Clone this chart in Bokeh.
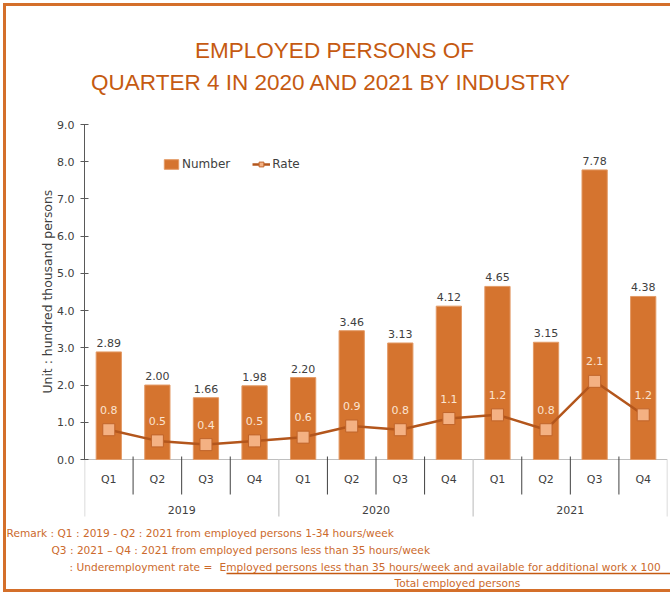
from bokeh.plotting import figure
from bokeh.layouts import column
from bokeh.models import (Range1d, FixedTicker, PrintfTickFormatter, ColumnDataSource,
                          Legend, LegendItem, Title)
from bokeh.core.properties import value
from bokeh.embed import file_html
from bokeh.resources import INLINE

# ---------------- data ----------------
years = ["2019", "2020", "2021"]
quarters = ["Q1", "Q2", "Q3", "Q4"]
number = [2.89, 2.00, 1.66, 1.98, 2.20, 3.46, 3.13, 4.12, 4.65, 3.15, 7.78, 4.38]
rate = [0.8, 0.5, 0.4, 0.5, 0.6, 0.9, 0.8, 1.1, 1.2, 0.8, 2.1, 1.2]
y_ticks = [0, 1, 2, 3, 4, 5, 6, 7, 8, 9]

title_lines = ["EMPLOYED PERSONS OF", "QUARTER 4 IN 2020 AND 2021  BY INDUSTRY"]
y_label = "Unit : hundred thousand persons"
remark_1 = "Remark : Q1 : 2019 - Q2 : 2021 from employed persons 1-34 hours/week"
remark_2 = "Q3 : 2021 \u2013 Q4 : 2021 from employed persons less than 35 hours/week"
remark_3a = ": Underemployment rate ="
remark_3b = "Employed persons less than 35 hours/week and available for additional work  x  100"
remark_4 = "Total employed persons"

# ---------------- layout constants (window pixels) ----------------
OX, OY = 6, 6                 # content origin (after slide border)
WIN_W = 670
FRAME_L, FRAME_R = 84, 667
Y0_PX, Y9_PX = 459, 124
MAIN_BOTTOM = 520
REM_BOTTOM = 589
n = len(number)
PX_PER_X = (FRAME_R - FRAME_L) / n
PX_PER_Y = (Y0_PX - Y9_PX) / 9.0

def px_x(wx):   # window pixel -> data x
    return (wx - FRAME_L) / PX_PER_X

def px_y(wy):   # window pixel -> data y
    return (Y0_PX - wy) / PX_PER_Y

ORANGE = "#C55A11"
REM = "#CC6A2C"
BAR = "#D5742F"
TXT = "#404040"
FONT = value("DejaVu Sans")

xs = [i + 0.5 for i in range(n)]
src = ColumnDataSource(dict(
    x=xs, number=number, rate=rate,
    nlab=["%.2f" % v for v in number],
    rlab=["%.1f" % v for v in rate],
))

p = figure(width=WIN_W - OX, height=MAIN_BOTTOM - OY,
           x_range=Range1d(0, n), y_range=Range1d(px_y(MAIN_BOTTOM), px_y(OY)),
           min_border_left=FRAME_L - OX, min_border_right=WIN_W - FRAME_R,
           min_border_top=0, min_border_bottom=0,
           x_axis_location=None, output_backend="svg", toolbar_location=None)
p.frame_align = False
p.outline_line_color = None
p.grid.visible = False
p.background_fill_color = "white"
p.border_fill_color = "white"

# y axis
ya = p.yaxis[0]
ya.ticker = FixedTicker(ticks=y_ticks)
ya.formatter = PrintfTickFormatter(format="%.1f")
ya.bounds = (0, 9)
ya.axis_line_color = "#595959"
ya.major_tick_line_color = "#595959"
ya.major_tick_in = 4
ya.major_tick_out = 4
ya.minor_tick_line_color = None
ya.major_label_text_font = "DejaVu Sans"
ya.major_label_text_font_size = "11px"
ya.major_label_text_color = TXT
ya.major_label_standoff = 6
p.add_layout(Title(text=y_label, align="left", offset=MAIN_BOTTOM - 393,
                   text_font="DejaVu Sans", text_font_size="12.4px",
                   text_font_style="normal", text_color=TXT, standoff=0), "left")

# titles
p.text(x=[px_x(334)] * 2, y=[px_y(50), px_y(82)], text=title_lines,
       text_font=value("Liberation Sans"), text_font_size="22.5px", text_color=ORANGE,
       text_align="center", text_baseline="middle")

# category axis region
p.segment(x0=[0], y0=[0], x1=[n], y1=[0], line_color="#BFBFBF", line_width=1)
group_edges = [4 * g for g in range(len(years) + 1)]
p.segment(x0=group_edges, y0=[0] * len(group_edges), x1=group_edges,
          y1=[px_y(516)] * len(group_edges), line_color="#D0D0D0", line_width=1.5)
q_edges = [i for i in range(1, n) if i % 4 != 0]
p.segment(x0=q_edges, y0=[0.08] * len(q_edges), x1=q_edges,
          y1=[px_y(494)] * len(q_edges), line_color="#404040", line_width=1)
p.text(x=xs, y=[px_y(479)] * n, text=[quarters[i % 4] for i in range(n)],
       text_font=FONT, text_font_size="11px", text_color=TXT,
       text_align="center", text_baseline="middle")
p.text(x=[4 * g + 2 for g in range(len(years))], y=[px_y(509)] * len(years), text=years,
       text_font=FONT, text_font_size="11px", text_color=TXT,
       text_align="center", text_baseline="middle")

# bars
bars = p.vbar(x="x", top="number", bottom=0, width=0.52, source=src,
              fill_color=BAR, line_color="#E39A66", line_width=1)
p.text(x="x", y="number", text="nlab", source=src, text_font=FONT,
       text_font_size="11px", text_color=TXT, text_align="center",
       text_baseline="bottom", y_offset=-5)

# rate line
ln = p.line(x="x", y="rate", source=src, line_color="#B3561C", line_width=2.5)
sq = p.scatter(x="x", y="rate", source=src, marker="square", size=12,
               fill_color="#F4B183", line_color="#C0642A", line_width=1)
p.text(x="x", y="rate", text="rlab", source=src, text_font=FONT,
       text_font_size="11px", text_color="#FBE3D0", text_align="center",
       text_baseline="middle", y_offset=-20)

# legend
legend = Legend(items=[LegendItem(label="Number", renderers=[bars]),
                       LegendItem(label="Rate", renderers=[ln, sq])],
                location=(78, MAIN_BOTTOM - 8 - 163), orientation="horizontal",
                background_fill_alpha=0, border_line_color=None,
                glyph_width=18, glyph_height=12, label_height=14,
                label_text_font="DejaVu Sans", label_text_font_size="12px",
                label_text_color=TXT, spacing=22, padding=10, label_standoff=2)
p.add_layout(legend)

# ---------------- remarks panel (window-pixel coordinates) ----------------
r = figure(width=WIN_W - OX, height=REM_BOTTOM - MAIN_BOTTOM,
           x_range=Range1d(OX, WIN_W), y_range=Range1d(REM_BOTTOM, MAIN_BOTTOM),
           min_border=0, x_axis_location=None, y_axis_location=None,
           output_backend="svg", toolbar_location=None)
r.frame_align = False
r.outline_line_color = None
r.grid.visible = False
r.text(x=[6, 51, 69, 219, 394], y=[532, 549, 566, 566, 582],
       text=[remark_1, remark_2, remark_3a, remark_3b, remark_4],
       text_font=FONT, text_font_size="10.6px", text_color=REM,
       text_align="left", text_baseline="middle")
r.segment(x0=[226], y0=[573], x1=[WIN_W], y1=[573], line_color=ORANGE, line_width=1.5)

layout = column(p, r, spacing=0,
                styles={"margin": "3px 0 0 3px",
                        "border-left": "3px solid #D46F2A",
                        "border-top": "3px solid #D46F2A",
                        "border-bottom": "3px solid #D46F2A"})

open("out.html", "w").write(file_html(layout, INLINE))
